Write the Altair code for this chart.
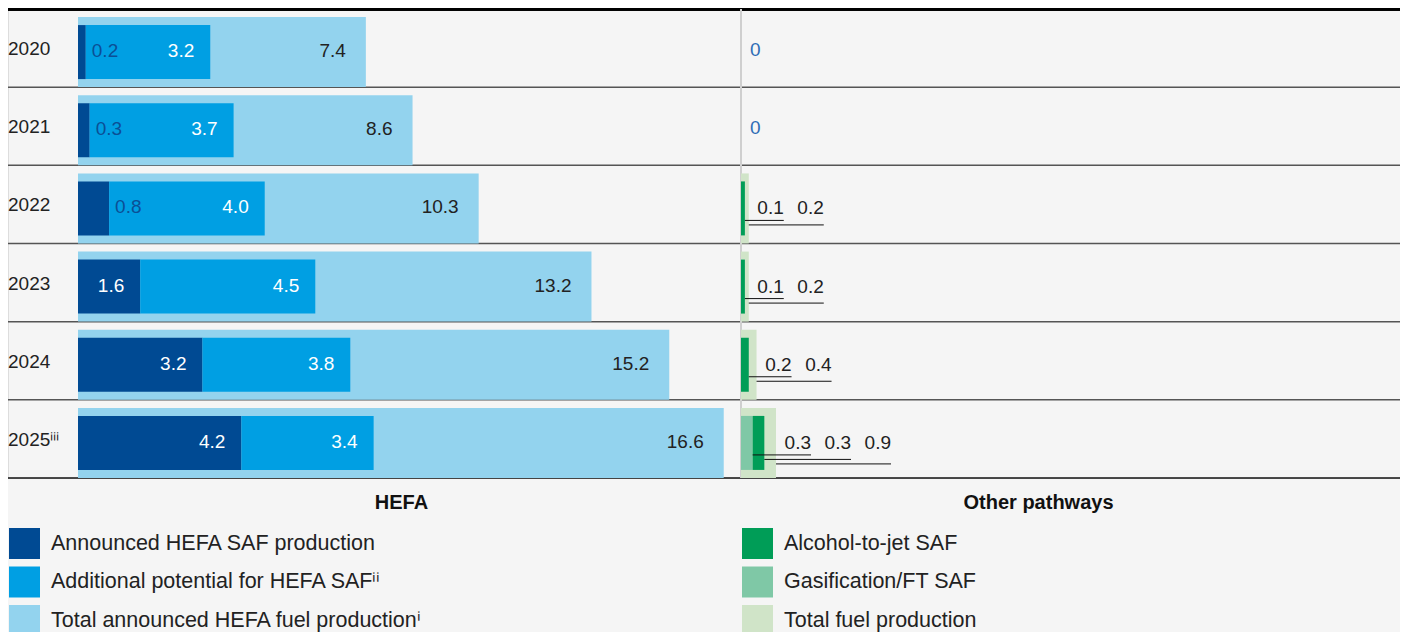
import altair as alt
import pandas as pd

# ---------------- data ----------------
years = ["2020", "2021", "2022", "2023", "2024", "2025ⁱⁱⁱ"]
hefa_announced = [0.2, 0.3, 0.8, 1.6, 3.2, 4.2]
hefa_additional = [3.2, 3.7, 4.0, 4.5, 3.8, 3.4]
hefa_total = [7.4, 8.6, 10.3, 13.2, 15.2, 16.6]
other_atj = [0.0, 0.0, 0.1, 0.1, 0.2, 0.3]
other_gas = [0.0, 0.0, 0.0, 0.0, 0.0, 0.3]
other_total = [0.0, 0.0, 0.2, 0.2, 0.4, 0.9]

hefa_series = ["Announced HEFA SAF production",
               "Additional potential for HEFA SAFⁱⁱ",
               "Total announced HEFA fuel productionⁱ"]
hefa_colors = ["#004a93", "#009fe3", "#93d3ee"]
other_series = ["Alcohol-to-jet SAF", "Gasification/FT SAF", "Total fuel production"]
other_colors = ["#009d57", "#7fc8a6", "#d0e4c8"]

# ---------------- layout ----------------
W, H = 1392, 469
PX = 38.9            # pixels per unit (shared by both panels)
HEFA_ZERO = 70       # pixel position of HEFA zero inside the plot
OTHER_ZERO = 733     # pixel position of other-pathways zero
FONT = "Liberation Sans"

hefa_dom = [-HEFA_ZERO / PX, (W - HEFA_ZERO) / PX]
other_dom = [-OTHER_ZERO / PX, (W - OTHER_ZERO) / PX]

# ---------------- tables ----------------
rows = []
for i, yr in enumerate(years):
    a, b, t = hefa_announced[i], hefa_additional[i], hefa_total[i]
    rows.append(dict(year=yr, series=hefa_series[0], value=a, start=0.0, end=a))
    rows.append(dict(year=yr, series=hefa_series[1], value=b, start=a, end=a + b))
    rows.append(dict(year=yr, series=hefa_series[2], value=t, start=0.0, end=t))
hefa = pd.DataFrame(rows)
hefa["label"] = hefa["value"].map(lambda v: f"{v:.1f}")

orows = []
lrows = []
for i, yr in enumerate(years):
    g, a, t = other_gas[i], other_atj[i], other_total[i]
    orows.append(dict(year=yr, series=other_series[1], value=g, start=0.0, end=g))
    orows.append(dict(year=yr, series=other_series[0], value=a, start=g, end=g + a))
    orows.append(dict(year=yr, series=other_series[2], value=t, start=0.0, end=t))
    if t > 0:
        items = []
        if g > 0:
            items.append((g, g))
        if a > 0:
            items.append((a, g + a))
        items.append((t, t))
        for r, (v, e) in enumerate(items):
            lrows.append(dict(year=yr, value=v, seg_end=e, total=t, rank=r,
                              label=f"{v:.1f}"))
    else:
        lrows.append(dict(year=yr, value=0.0, seg_end=0.0, total=0.0, rank=-1,
                          label="0"))
other = pd.DataFrame(orows)
olab = pd.DataFrame(lrows)
year_df = pd.DataFrame({"year": years})

# ---------------- encodings ----------------
yscale = alt.Scale(type="band", domain=years, paddingInner=0, paddingOuter=0)


def Y(**kw):
    return alt.Y("year:N", scale=yscale, axis=None, **kw)


hefa_axis = alt.Axis(orient="bottom", labels=False, ticks=False, domain=False, grid=False,
                     titleX=393, titleY=24, titleAlign="center", titleBaseline="middle",
                     titleFontSize=20, titleFontWeight="bold", titleColor="#111",
                     titleFont=FONT)
other_axis = alt.Axis(orient="bottom", labels=False, ticks=False, domain=False, grid=False,
                      titleX=1030, titleY=24, titleAlign="center", titleBaseline="middle",
                      titleFontSize=20, titleFontWeight="bold", titleColor="#111",
                      titleFont=FONT)


def HX(field):
    return alt.X(field, scale=alt.Scale(domain=hefa_dom, zero=False, nice=False),
                 axis=hefa_axis, title="HEFA")


def OX(field):
    return alt.X(field, scale=alt.Scale(domain=other_dom, zero=False, nice=False),
                 axis=other_axis, title="Other pathways")


def legend(x):
    return alt.Legend(title=None, orient="none", legendX=x, legendY=519, direction="vertical",
                      symbolType="square", symbolSize=961, symbolStrokeWidth=0,
                      symbolOpacity=1, labelFontSize=21.5, labelColor="#222",
                      labelFont=FONT, labelOffset=11, rowPadding=7.5, padding=0,
                      labelLimit=0)


hefa_color = alt.Color("series:N", scale=alt.Scale(domain=hefa_series, range=hefa_colors),
                       legend=legend(1))
other_color = alt.Color("series:N", scale=alt.Scale(domain=other_series, range=other_colors),
                        legend=legend(734))

# ---------------- HEFA layers ----------------
top_rule = alt.Chart(year_df).mark_rule(color="#000", strokeWidth=3).encode(
    y=alt.value(0))
row_rules = alt.Chart(year_df).mark_rule(strokeWidth=1.5).encode(
    y=Y(bandPosition=1),
    color=alt.condition(f"datum.year == '{years[-1]}'", alt.value("#111"), alt.value("#555")))

h_total = alt.Chart(hefa[hefa.series == hefa_series[2]]).mark_bar(height=70, yOffset=4).encode(
    x=HX("start:Q"), x2="end:Q", y=Y(), color=hefa_color)
h_stack = alt.Chart(hefa[hefa.series != hefa_series[2]]).mark_bar(height=54, yOffset=4).encode(
    x=HX("start:Q"), x2="end:Q", y=Y(), color=hefa_color)

inside = hefa[(hefa.series == hefa_series[1]) |
              ((hefa.series == hefa_series[0]) & (hefa.value >= 1))]
outside = hefa[(hefa.series == hefa_series[0]) & (hefa.value < 1)]
totals = hefa[hefa.series == hefa_series[2]]

txt = dict(font=FONT, fontSize=19, baseline="middle", dy=3)
h_in = alt.Chart(inside).mark_text(align="right", dx=-16, color="#ffffff", **txt).encode(
    x=HX("end:Q"), y=Y(), text="label:N")
h_out = alt.Chart(outside).mark_text(align="left", dx=6, color="#0b4f96", **txt).encode(
    x=HX("end:Q"), y=Y(), text="label:N")
h_tot = alt.Chart(totals).mark_text(align="right", dx=-20, color="#222222", **txt).encode(
    x=HX("end:Q"), y=Y(), text="label:N")
year_lab = alt.Chart(year_df).mark_text(align="left", font=FONT, fontSize=19, baseline="middle",
                                        dy=1, color="#222222").encode(
    x=alt.value(0), y=Y(), text="year:N")

hefa_layer = alt.layer(top_rule, row_rules, h_total, h_stack, h_in, h_out, h_tot, year_lab)

# ---------------- Other pathways layers ----------------
o_axis_line = alt.Chart(year_df).mark_rule(color="#cfcfcf", strokeWidth=2).encode(
    x=OX("z:Q")).transform_calculate(z="0")
o_total = alt.Chart(other[(other.series == other_series[2]) & (other.value > 0)]).mark_bar(
    height=70, yOffset=4).encode(x=OX("start:Q"), x2="end:Q", y=Y(), color=other_color)
o_stack = alt.Chart(other[(other.series != other_series[2]) & (other.value > 0)]).mark_bar(
    height=54, yOffset=4).encode(x=OX("start:Q"), x2="end:Q", y=Y(), color=other_color)

o_layers = [o_axis_line, o_total, o_stack]
for r in range(3):
    sub = olab[olab["rank"] == r]
    off = 35 + 40 * r
    o_layers.append(alt.Chart(sub).mark_rule(color="#111", strokeWidth=1, x2Offset=off,
                                             yOffset=16 + 4.5 * r).encode(
        x=OX("seg_end:Q"), x2="total:Q", y=Y()))
    o_layers.append(alt.Chart(sub).mark_text(align="right", dx=off, color="#222222",
                                             font=FONT, fontSize=19, baseline="middle",
                                             dy=4).encode(
        x=OX("total:Q"), y=Y(), text="label:N"))
o_layers.append(alt.Chart(olab[olab["rank"] == -1]).mark_text(
    align="left", dx=9, color="#2f6db5", font=FONT, fontSize=19, baseline="middle", dy=2).encode(
    x=OX("total:Q"), y=Y(), text="label:N"))

other_layer = alt.layer(*o_layers)

chart = alt.layer(hefa_layer, other_layer).resolve_scale(
    x="independent", color="independent").resolve_axis(x="independent").resolve_legend(
    color="independent").properties(
    width=W, height=H,
    padding={"left": 0, "top": 1, "right": 0, "bottom": 154},
    autosize=alt.AutoSizeParams(type="none"),
    background="#f5f5f5",
).configure_view(stroke=None).configure(font=FONT)

chart.save("out.html", embed_options={"renderer": "svg", "actions": False})
